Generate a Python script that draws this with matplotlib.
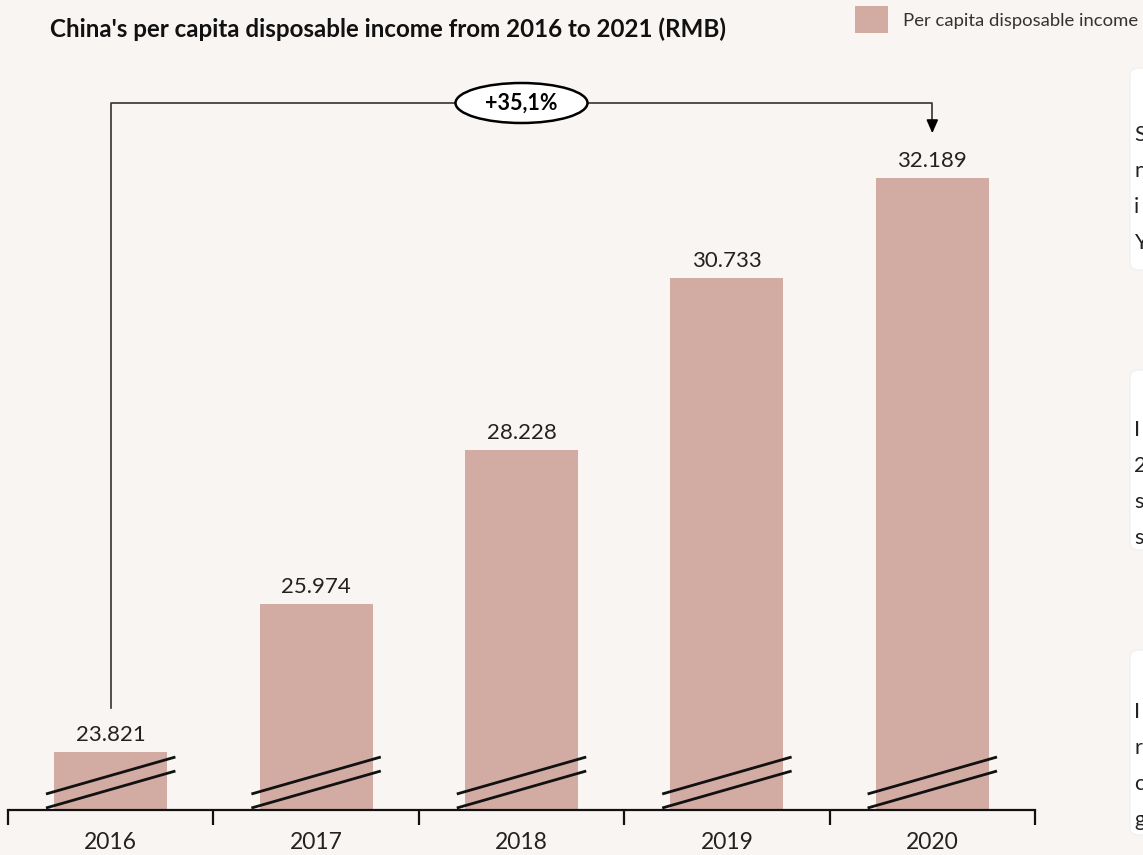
import numpy as np
import matplotlib.pyplot as plt
from matplotlib.patches import Ellipse, FancyBboxPatch, Rectangle

plt.rcParams['font.family'] = ['Lato', 'DejaVu Sans']

years = ["2016", "2017", "2018", "2019", "2020"]
income = [23821, 25974, 28228, 30733, 32189]
title = "China's per capita disposable income from 2016 to 2021 (RMB)"
legend_label = "Per capita disposable income"
side_letters = [["S", "n", "i", "Y"], ["I", "2", "s", "s"], ["I", "r", "c", "g"]]

bg = "#f9f5f3"
bar_color = "#d2aca3"


def fmt(v):
    return f"{v:,}".replace(",", ".")


def main():
    W, H = 1143, 855
    fig = plt.figure(figsize=(W / 100, H / 100), dpi=100, facecolor=bg)

    # axes placed in pixel terms
    left, right, bottom, top = 8, 1035, 810, 60
    ax = fig.add_axes([left / W, (H - bottom) / H, (right - left) / W, (bottom - top) / H])
    ax.set_facecolor(bg)

    px_per_unit = 0.0686
    y0 = 22975
    y1 = y0 + (bottom - top) / px_per_unit
    ax.set_xlim(-0.5, len(years) - 0.5)
    ax.set_ylim(y0, y1)

    x = np.arange(len(years))
    bw = 0.55
    ax.bar(x, income, width=bw, color=bar_color, bottom=0, zorder=2)

    # value labels
    for xi, v in zip(x, income):
        ax.annotate(fmt(v), (xi, v), xytext=(0, 5), textcoords="offset points",
                    ha="center", va="bottom", fontsize=16, color="#222222")

    # axis break marks
    u = 1 / px_per_unit
    for xi in x:
        xa, xb = xi - bw / 2 - 0.04, xi + bw / 2 + 0.04
        for off in (16, 2):
            ax.plot([xa, xb], [y0 + off * u, y0 + (off + 37) * u], color="#111111",
                    lw=2.0, zorder=3, clip_on=False, solid_capstyle="butt")

    # spines and ticks
    for s in ("left", "right", "top"):
        ax.spines[s].set_visible(False)
    ax.spines["bottom"].set_linewidth(1.6)
    ax.spines["bottom"].set_color("#111111")
    ax.set_yticks([])
    ax.set_xticks(x)
    ax.set_xticklabels(years, fontsize=16.5, color="#222222")
    ax.tick_params(axis="x", which="major", length=0, pad=16)
    ax.set_xticks(np.arange(-0.5, len(years), 1.0), minor=True)
    ax.tick_params(axis="x", which="minor", length=11, width=1.6, color="#111111")

    # growth bracket
    growth = (income[-1] / income[0] - 1) * 100
    y_top = y0 + (bottom - 103) * u
    y_start = y0 + (bottom - 708) * u
    y_end = y0 + (bottom - 121) * u
    ax.plot([x[0], x[0], x[-1], x[-1]], [y_start, y_top, y_top, y_end],
            color="#333333", lw=1.2, zorder=3, clip_on=False)
    ax.annotate("", xy=(x[-1], y0 + (bottom - 136) * u), xytext=(x[-1], y_end),
                arrowprops=dict(arrowstyle="-|>,head_length=0.8,head_width=0.35",
                                color="black", lw=1.2), zorder=4)
    xc = (x[0] + x[-1]) / 2
    ell = Ellipse((xc, y_top), width=132 / 205.4, height=40 * u,
                  facecolor="white", edgecolor="black", lw=1.8, zorder=5, clip_on=False)
    ax.add_patch(ell)
    ax.text(xc, y_top, f"+{growth:.1f}%".replace(".", ","), ha="center", va="center",
            fontsize=15.5, fontweight="bold", zorder=6)

    # title and legend
    fig.text(50 / W, 1 - 29 / H, title, fontsize=17.4, fontweight="bold",
             ha="left", va="center", color="#111111")
    fig.patches.append(Rectangle((855 / W, 1 - 33 / H), 33 / W, 27 / H,
                                 transform=fig.transFigure, facecolor=bar_color,
                                 edgecolor="none"))
    fig.text(903 / W, 1 - 21 / H, legend_label, fontsize=13.3, ha="left",
             va="center", color="#333333")

    # side panels, cut off at the right edge as in the source
    boxes = [(68, 270), (370, 550), (650, 835)]
    first = [135, 430, 712]
    for (ytop, ybot), letters, fy in zip(boxes, side_letters, first):
        fig.patches.append(FancyBboxPatch((1130 / W, 1 - ybot / H), 40 / W, (ybot - ytop) / H,
                                          boxstyle="round,pad=0,rounding_size=0.008",
                                          transform=fig.transFigure, facecolor="white",
                                          edgecolor="#eeeeee", lw=0.8))
        for k, ch in enumerate(letters):
            fig.text(1134 / W, 1 - (fy + k * 36) / H, ch, fontsize=15.5,
                     ha="left", va="center", color="#222222")

    fig.savefig("out.png", dpi=100, facecolor=bg)


if __name__ == '__main__':
    main()
